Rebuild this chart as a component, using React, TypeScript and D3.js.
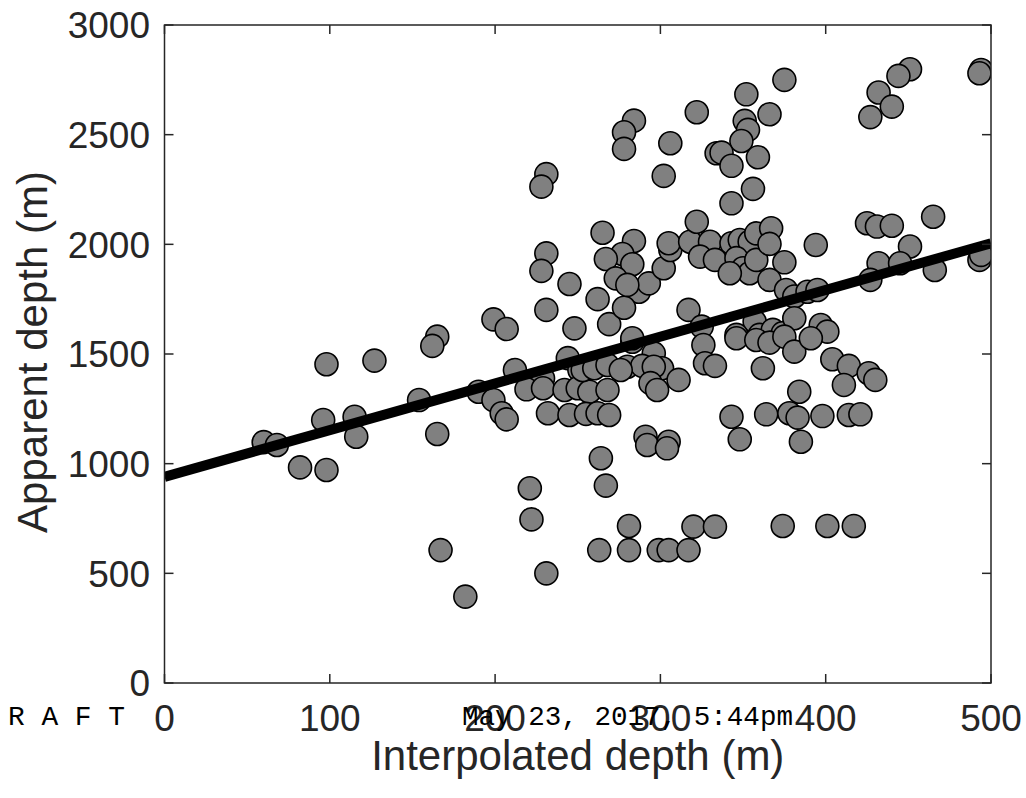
import React from 'react';
import * as d3 from 'd3';

// interpolated depth (m) vs apparent depth (m)
const interpDepth = [
  60, 68, 82, 98, 98, 96, 115, 116, 127, 154, 165, 165, 162, 167, 182, 199, 207, 212,
  231, 228, 231, 228, 245, 231, 248, 265, 262, 269, 284, 278, 278, 284, 277, 267, 283,
  273, 287, 293, 278, 302, 306, 305, 318, 322, 330, 324, 333, 302, 306, 322, 334, 317,
  325, 326, 327, 333, 244, 283, 296, 280, 289, 301, 311, 251, 229, 190, 199, 204, 207,
  219, 229, 242, 250, 257, 268, 253, 260, 268, 276, 296, 294, 298, 232, 245, 255, 262,
  269, 291, 292, 305, 304, 264, 267, 221, 222, 231, 263, 281, 281, 299, 305, 317, 320,
  333, 375, 352, 366, 351, 353, 349, 337, 343, 359, 356, 343, 343, 348, 354, 358, 346,
  350, 354, 342, 358, 367, 366, 375, 366, 394, 376, 381, 389, 395, 357, 346, 360, 368,
  374, 381, 397, 401, 425, 431, 440, 465, 451, 444, 432, 440, 427, 494, 493, 451, 432,
  445, 427, 466, 493, 494, 346, 358, 366, 375, 381, 391, 362, 404, 414, 411, 426, 430,
  384, 343, 348, 364, 378, 383, 385, 398, 414, 421, 374, 401, 417, 280, 283,
];
const apparentDepth = [
  1098, 1085, 983, 971, 1453, 1199, 1214, 1123, 1470, 1290, 1135, 1579, 1537, 606, 394,
  1658, 1614, 1427, 2320, 2263, 1959, 1879, 1819, 1701, 1617, 2053, 1750, 1636, 2564,
  2511, 2435, 2015, 1956, 1933, 1909, 1845, 1784, 1822, 1711, 1891, 1974, 2005, 2012,
  2103, 2012, 1944, 1929, 2312, 2461, 2602, 2415, 1701, 1625, 1541, 1458, 1446, 1481,
  1556, 1503, 1442, 1446, 1435, 1382, 1427, 1389, 1328, 1290, 1230, 1202, 1339, 1344,
  1336, 1344, 1328, 1336, 1427, 1435, 1450, 1427, 1442, 1367, 1336, 1230, 1222, 1227,
  1230, 1222, 1123, 1085, 1100, 1070, 1025, 900, 888, 746, 500, 606, 716, 606, 606, 606,
  606, 713, 713, 2750, 2684, 2593, 2563, 2522, 2471, 2418, 2358, 2397, 2253, 2187, 2005,
  2020, 2012, 2050, 1937, 1891, 1868, 1868, 1929, 2073, 2002, 1918, 1838, 1997, 1792,
  1762, 1784, 1792, 1648, 1587, 1587, 1610, 1595, 1663, 1632, 1602, 2096, 2081, 2085,
  2126, 2798, 2768, 2692, 2628, 2580, 2795, 2780, 1990, 1914, 1914, 1838, 1883, 1929,
  1952, 1572, 1564, 1552, 1579, 1511, 1572, 1435, 1476, 1446, 1359, 1412, 1382, 1328,
  1214, 1111, 1225, 1230, 1210, 1100, 1217, 1222, 1225, 716, 716, 716, 1815, 1572,
];

// fitted line end points
const fitX = [0, 500];
const fitY = [940, 2005];

const xTicks = [0, 100, 200, 300, 400, 500];
const yTicks = [0, 500, 1000, 1500, 2000, 2500, 3000];

const W = 1026;
const H = 798;
const box = { left: 164.5, right: 991, top: 25, bottom: 683 };
const axisColor = '#262626';
const font = '"Liberation Sans", Arial, Helvetica, sans-serif';
const mono = '"Liberation Mono", "DejaVu Sans Mono", monospace';

export default function App() {
  const x = d3.scaleLinear().domain([0, 500]).range([box.left, box.right]);
  const y = d3.scaleLinear().domain([0, 3000]).range([box.bottom, box.top]);

  const points = interpDepth.map((v, i) => ({ x: v, y: apparentDepth[i] }));
  const fit = d3
    .line<number>()
    .x((d) => x(d))
    .y((_, i) => y(fitY[i]))(fitX);

  const tickLen = 9;

  return (
    <svg
      width={W}
      height={H}
      style={{ position: 'fixed', left: 0, top: 0, background: '#fff' }}
    >
      <rect x={0} y={0} width={W} height={H} fill="#fff" />

      <defs>
        <clipPath id="plot-clip">
          <rect x={box.left} y={box.top} width={box.right - box.left} height={box.bottom - box.top} />
        </clipPath>
      </defs>

      <g clipPath="url(#plot-clip)">
        {points.map((p, i) => (
          <circle
            key={i}
            cx={x(p.x)}
            cy={y(p.y)}
            r={11.5}
            fill="#808080"
            stroke="#000"
            strokeWidth={1.6}
          />
        ))}
        <path d={fit ?? ''} stroke="#000" strokeWidth={10} fill="none" />
      </g>

      {/* axes box */}
      <rect
        x={box.left}
        y={box.top}
        width={box.right - box.left}
        height={box.bottom - box.top}
        fill="none"
        stroke={axisColor}
        strokeWidth={1.5}
      />

      {xTicks.map((t) => (
        <g key={'x' + t}>
          <line x1={x(t)} x2={x(t)} y1={box.bottom} y2={box.bottom - tickLen} stroke={axisColor} strokeWidth={1.5} />
          <line x1={x(t)} x2={x(t)} y1={box.top} y2={box.top + tickLen} stroke={axisColor} strokeWidth={1.5} />
          <text x={x(t)} y={731} textAnchor="middle" fontFamily={font} fontSize={37} fill={axisColor}>
            {t}
          </text>
        </g>
      ))}

      {yTicks.map((t) => (
        <g key={'y' + t}>
          <line x1={box.left} x2={box.left + tickLen} y1={y(t)} y2={y(t)} stroke={axisColor} strokeWidth={1.5} />
          <line x1={box.right} x2={box.right - tickLen} y1={y(t)} y2={y(t)} stroke={axisColor} strokeWidth={1.5} />
          <text
            x={150}
            y={y(t)}
            dy="0.36em"
            textAnchor="end"
            fontFamily={font}
            fontSize={37}
            fill={axisColor}
          >
            {t}
          </text>
        </g>
      ))}

      <text
        x={(box.left + box.right) / 2}
        y={770}
        textAnchor="middle"
        fontFamily={font}
        fontSize={42}
        fill={axisColor}
      >
        Interpolated depth (m)
      </text>
      <text
        transform={`translate(47,${(box.top + box.bottom) / 2 - 2}) rotate(-90)`}
        textAnchor="middle"
        fontFamily={font}
        fontSize={42}
        fill={axisColor}
      >
        Apparent depth (m)
      </text>

      {/* draft stamp */}
      <text x={8} y={725} fontFamily={mono} fontSize={27} fill="#000" textLength={117} lengthAdjust="spacingAndGlyphs">
        R A F T
      </text>
      <text x={462} y={725} fontFamily={mono} fontSize={27} fill="#000" textLength={331} lengthAdjust="spacingAndGlyphs">
        May 23, 2017, 5:44pm
      </text>
    </svg>
  );
}
